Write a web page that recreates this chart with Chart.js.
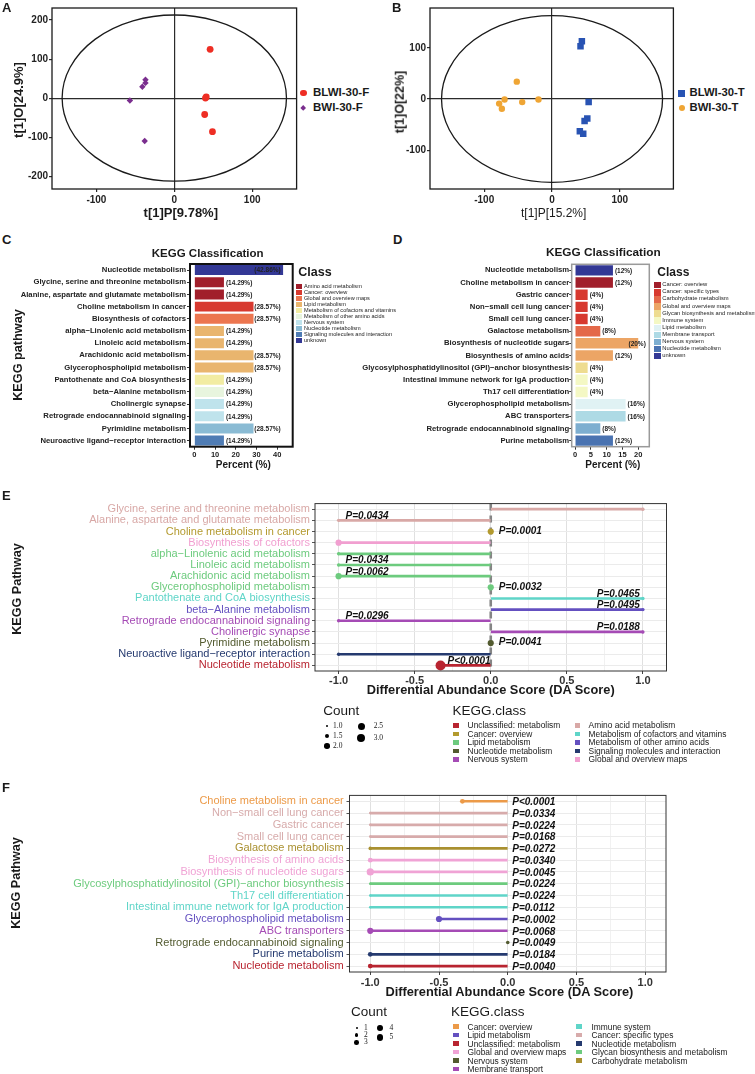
<!DOCTYPE html>
<html><head><meta charset="utf-8">
<script src="https://cdn.jsdelivr.net/npm/chart.js@4.4.1/dist/chart.umd.min.js"></script>
<style>
html,body{margin:0;padding:0;background:#fff;}
body{width:755px;height:1074px;position:relative;overflow:hidden;font-family:"Liberation Sans",Arial,Helvetica,sans-serif;color:#1a1a1a;}
.t{position:absolute;white-space:nowrap;line-height:1;}
canvas{position:absolute;}
.sw{position:absolute;}
</style></head><body>
<script>
// ---------------- DATA ----------------
// Panel A (OPLS-DA scores, F)
const aSeries = ['BLWI-30-F', 'BWI-30-F'];
const aBlwiX = [46, 41, 40, 39, 49];
const aBlwiY = [125, 3, 0, -42, -86];
const aBwiX = [-37, -37, -41, -57, -38];
const aBwiY = [47, 39, 29, -6, -110];
const aAxisTitles = ['t[1]P[9.78%]', 't[1]O[24.9%]'];
const aEllipse = [144, 213];

// Panel B (OPLS-DA scores, T)
const bSeries = ['BLWI-30-T', 'BWI-30-T'];
const bBlwiX = [44, 42, 54, 52, 48, 41, 46];
const bBlwiY = [113, 103, -6, -38, -43, -63, -68];
const bBwiX = [-52, -70, -44, -20, -78, -74];
const bBwiY = [34, -1, -6, -1, -9, -19];
const bAxisTitles = ['t[1]P[15.2%]', 't[1]O[22%]'];
const bEllipse = [163, 163];

// Panel C (KEGG classification)
const cPathways = ['Nucleotide metabolism','Glycine, serine and threonine metabolism','Alanine, aspartate and glutamate metabolism','Choline metabolism in cancer','Biosynthesis of cofactors','alpha\u2212Linolenic acid metabolism','Linoleic acid metabolism','Arachidonic acid metabolism','Glycerophospholipid metabolism','Pantothenate and CoA biosynthesis','beta\u2212Alanine metabolism','Cholinergic synapse','Retrograde endocannabinoid signaling','Pyrimidine metabolism','Neuroactive ligand\u2212receptor interaction'];
const cPercent = [42.86,14.29,14.29,28.57,28.57,14.29,14.29,28.57,28.57,14.29,14.29,14.29,14.29,28.57,14.29];
const cClass = ['unknown','Amino acid metabolism','Amino acid metabolism','Cancer: overview','Global and overview maps','Lipid metabolism','Lipid metabolism','Lipid metabolism','Lipid metabolism','Metabolism of cofactors and vitamins','Metabolism of other amino acids','Nervous system','Nervous system','Nucleotide metabolism','Signaling molecules and interaction'];
const cClassNames = ['Amino acid metabolism','Cancer: overview','Global and overview maps','Lipid metabolism','Metabolism of cofactors and vitamins','Metabolism of other amino acids','Nervous system','Nucleotide metabolism','Signaling molecules and interaction','unknown'];
const cClassColors = ['#A11F2B','#D7392F','#EC7650','#E9B56E','#F2ECA2','#E8F5DE','#BFE3EC','#8ABBD4','#4F7CB4','#333895'];
const cTicks = [0, 10, 20, 30, 40];

// Panel D (KEGG classification)
const dPathways = ['Nucleotide metabolism','Choline metabolism in cancer','Gastric cancer','Non\u2212small cell lung cancer','Small cell lung cancer','Galactose metabolism','Biosynthesis of nucleotide sugars','Biosynthesis of amino acids','Glycosylphosphatidylinositol (GPI)\u2212anchor biosynthesis','Intestinal immune network for IgA production','Th17 cell differentiation','Glycerophospholipid metabolism','ABC transporters','Retrograde endocannabinoid signaling','Purine metabolism'];
const dPercent = [12,12,4,4,4,8,20,12,4,4,4,16,16,8,12];
const dClass = ['unknown','Cancer: overview','Cancer: specific types','Cancer: specific types','Cancer: specific types','Carbohydrate metabolism','Global and overview maps','Global and overview maps','Glycan biosynthesis and metabolism','Immune system','Immune system','Lipid metabolism','Membrane transport','Nervous system','Nucleotide metabolism'];
const dClassNames = ['Cancer: overview','Cancer: specific types','Carbohydrate metabolism','Global and overview maps','Glycan biosynthesis and metabolism','Immune system','Lipid metabolism','Membrane transport','Nervous system','Nucleotide metabolism','unknown'];
const dClassColors = ['#A11F2B','#D7392F','#E4694A','#ECA565','#EEDC90','#F4F8C4','#E0F2F4','#AEDAE5','#7DAED0','#4A73B1','#333895'];

// Panel E (DA score)
const ePathways = ['Glycine, serine and threonine metabolism','Alanine, aspartate and glutamate metabolism','Choline metabolism in cancer','Biosynthesis of cofactors','alpha\u2212Linolenic acid metabolism','Linoleic acid metabolism','Arachidonic acid metabolism','Glycerophospholipid metabolism','Pantothenate and CoA biosynthesis','beta\u2212Alanine metabolism','Retrograde endocannabinoid signaling','Cholinergic synapse','Pyrimidine metabolism','Neuroactive ligand\u2212receptor interaction','Nucleotide metabolism'];
const eDA = [1,-1,0,-1,-1,-1,-1,0,1,1,-1,1,0,-1,-0.33];
const eCount = [1,1,2,2,1,1,2,2,1,1,1,1,2,1,3];
const eClass = ['Amino acid metabolism','Amino acid metabolism','Cancer: overview','Global and overview maps','Lipid metabolism','Lipid metabolism','Lipid metabolism','Lipid metabolism','Metabolism of cofactors and vitamins','Metabolism of other amino acids','Nervous system','Nervous system','Nucleotide metabolism','Signaling molecules and interaction','Unclassified: metabolism'];
const eP = ['','P=0.0434','P=0.0001','','','P=0.0434','P=0.0062','P=0.0032','P=0.0465','P=0.0495','P=0.0296','P=0.0188','P=0.0041','','P<0.0001'];
const eClassNames = ['Unclassified: metabolism','Cancer: overview','Lipid metabolism','Nucleotide metabolism','Nervous system','Amino acid metabolism','Metabolism of cofactors and vitamins','Metabolism of other amino acids','Signaling molecules and interaction','Global and overview maps'];
const eClassColors = ['#B82430','#B39A2E','#6DCB7E','#535B30','#A54BB5','#D8A8A6','#5FD5C8','#6450C0','#253A6F','#F19FD0'];
const eCountLevels = ['1.0','1.5','2.0','2.5','3.0'];

// Panel F (DA score)
const fPathways = ['Choline metabolism in cancer','Non\u2212small cell lung cancer','Gastric cancer','Small cell lung cancer','Galactose metabolism','Biosynthesis of amino acids','Biosynthesis of nucleotide sugars','Glycosylphosphatidylinositol (GPI)\u2212anchor biosynthesis','Th17 cell differentiation','Intestinal immune network for IgA production','Glycerophospholipid metabolism','ABC transporters','Retrograde endocannabinoid signaling','Purine metabolism','Nucleotide metabolism'];
const fDA = [-0.33,-1,-1,-1,-1,-1,-1,-1,-1,-1,-0.5,-1,0,-1,-1];
const fCount = [3,1,1,1,2,3,5,1,1,1,4,4,2,3,3];
const fClass = ['Cancer: overview','Cancer: specific types','Cancer: specific types','Cancer: specific types','Carbohydrate metabolism','Global and overview maps','Global and overview maps','Glycan biosynthesis and metabolism','Immune system','Immune system','Lipid metabolism','Membrane transport','Nervous system','Nucleotide metabolism','Unclassified: metabolism'];
const fP = ['P<0.0001','P=0.0334','P=0.0224','P=0.0168','P=0.0272','P=0.0340','P=0.0045','P=0.0224','P=0.0224','P=0.0112','P=0.0002','P=0.0068','P=0.0049','P=0.0184','P=0.0040'];
const fClassNames = ['Cancer: overview','Lipid metabolism','Unclassified: metabolism','Global and overview maps','Nervous system','Membrane transport','Immune system','Cancer: specific types','Nucleotide metabolism','Glycan biosynthesis and metabolism','Carbohydrate metabolism'];
const fClassColors = ['#EC9A48','#6450C0','#B82430','#F0A3D5','#535B30','#A54BB5','#5FD5C8','#D7ABAB','#253A6F','#6DCB7E','#A99030'];
const fCountLevels = ['1','2','3','4','5'];

// ---------------- HELPERS ----------------
const SANS = '"Liberation Sans", Arial, Helvetica, sans-serif';
const SERIF = '"Liberation Serif", "Times New Roman", serif';
Chart.defaults.font.family = SANS;
Chart.defaults.color = '#222';

function txt(s, x, y, o) {
  o = o || {};
  const d = document.createElement('div');
  d.className = 't'; d.textContent = s;
  d.style.left = x + 'px'; d.style.top = y + 'px';
  d.style.fontSize = (o.size || 12) + 'px';
  d.style.fontWeight = o.bold ? 'bold' : 'normal';
  if (o.italic) d.style.fontStyle = 'italic';
  if (o.family) d.style.fontFamily = o.family;
  d.style.color = o.color || '#1a1a1a';
  const ax = o.align === 'center' ? '-50%' : (o.align === 'right' ? '-100%' : '0');
  d.style.transform = o.rotate ? 'translate(-50%,-50%) rotate(' + o.rotate + 'deg)' : 'translate(' + ax + ',-50%)';
  document.body.appendChild(d);
  return d;
}
function swatch(x, y, w, h, color, shape) {
  const d = document.createElement('div');
  d.className = 'sw';
  d.style.left = (x - w / 2) + 'px'; d.style.top = (y - h / 2) + 'px';
  d.style.width = w + 'px'; d.style.height = h + 'px';
  d.style.background = color;
  if (shape === 'circle') d.style.borderRadius = '50%';
  if (shape === 'diamond') d.style.transform = 'rotate(45deg)';
  document.body.appendChild(d);
}
function mkCanvas(b) {
  const c = document.createElement('canvas');
  c.width = b.w; c.height = b.h;
  c.style.left = b.l + 'px'; c.style.top = b.t + 'px';
  c.style.width = b.w + 'px'; c.style.height = b.h + 'px';
  document.body.appendChild(c);
  return c;
}
function fit(b, a) {
  return { padding: { top: a.t - b.t, right: b.l + b.w - a.r, left: 0, bottom: 0 }, yw: a.l - b.l, xh: b.t + b.h - a.b };
}
function mapOf(names, colors) { const m = {}; names.forEach((n, i) => m[n] = colors[i]); return m; }

const framePlugin = {
  id: 'frame',
  afterDraw(chart, args, opts) {
    const { left, top, right, bottom } = chart.chartArea;
    const ctx = chart.ctx;
    ctx.save();
    ctx.strokeStyle = opts.color || '#000';
    ctx.lineWidth = opts.width || 1;
    ctx.strokeRect(left, top, right - left, bottom - top);
    ctx.restore();
  }
};
const ellipsePlugin = {
  id: 'ellipse',
  beforeDatasetsDraw(chart, args, opts) {
    const xs = chart.scales.x, ys = chart.scales.y, ctx = chart.ctx;
    const cx = xs.getPixelForValue(0), cy = ys.getPixelForValue(0);
    const rx = xs.getPixelForValue(opts.rx) - cx, ry = cy - ys.getPixelForValue(opts.ry);
    ctx.save();
    ctx.strokeStyle = '#1a1a1a'; ctx.lineWidth = 1.3;
    ctx.beginPath(); ctx.ellipse(cx, cy, rx, ry, 0, 0, Math.PI * 2); ctx.stroke();
    ctx.restore();
  }
};
function makeBarLabels(vals, rightPad) {
  return {
    id: 'barLabels',
    afterDatasetsDraw(chart) {
      const meta = chart.getDatasetMeta(0), ctx = chart.ctx;
      ctx.save();
      ctx.font = 'bold 6.5px ' + SANS;
      ctx.fillStyle = '#222'; ctx.textAlign = 'left'; ctx.textBaseline = 'middle';
      meta.data.forEach((bar, i) => {
        const t = '(' + vals[i] + '%)';
        const w = ctx.measureText(t).width;
        let x = bar.x + 2;
        const lim = chart.chartArea.right - rightPad - w;
        if (x > lim) x = lim;
        ctx.fillText(t, x, bar.y + 0.5);
      });
      ctx.restore();
    }
  };
}
function makePLabels(labels, values, mode) {
  return {
    id: 'pLabels',
    afterDatasetsDraw(chart) {
      const xs = chart.scales.x, ys = chart.scales.y, ctx = chart.ctx;
      ctx.save();
      ctx.font = 'italic bold 10px ' + SANS;
      ctx.fillStyle = '#111';
      labels.forEach((t, i) => {
        if (!t) return;
        const y = ys.getPixelForValue(i);
        if (mode === 'zero') {
          ctx.textAlign = 'left'; ctx.textBaseline = 'middle';
          ctx.fillText(t, xs.getPixelForValue(0) + 4.5, y + 1);
          return;
        }
        const v = values[i], x = xs.getPixelForValue(v);
        if (v > 0) { ctx.textAlign = 'right'; ctx.textBaseline = 'alphabetic'; ctx.fillText(t, x - 3, y - 1.5); }
        else if (v === 0) { ctx.textAlign = 'left'; ctx.textBaseline = 'middle'; ctx.fillText(t, x + 8, y - 0.5); }
        else { ctx.textAlign = 'left'; ctx.textBaseline = 'alphabetic'; ctx.fillText(t, x + 7, y - 1.5); }
      });
      ctx.restore();
    }
  };
}
const zeroDashPlugin = {
  id: 'zeroDash',
  beforeDatasetsDraw(chart, args, opts) {
    if (!opts.show) return;
    const xs = chart.scales.x, ctx = chart.ctx, a = chart.chartArea;
    const x = xs.getPixelForValue(0);
    ctx.save();
    ctx.strokeStyle = '#858585'; ctx.lineWidth = 2.6; ctx.setLineDash([7, 5]);
    ctx.beginPath(); ctx.moveTo(x, a.top); ctx.lineTo(x, a.bottom); ctx.stroke();
    ctx.restore();
  }
};

// ---------------- PANELS ----------------
function scatterPanel(b, a, sets, ell, xr, yr) {
  const f = fit(b, a);
  const cv = mkCanvas(b);
  const zeroGrid = {
    drawOnChartArea: true, drawTicks: true, tickLength: 3, lineWidth: 1.2, tickColor: '#2b2b2b',
    color: c => (c.tick && c.tick.value === 0) ? '#2b2b2b' : 'rgba(0,0,0,0)'
  };
  return new Chart(cv, {
    type: 'scatter',
    data: { datasets: sets },
    options: {
      responsive: false, animation: false, devicePixelRatio: 1,
      layout: { padding: f.padding },
      plugins: { legend: { display: false }, tooltip: { enabled: false }, frame: { color: '#1a1a1a', width: 1.3 }, ellipse: { rx: ell[0], ry: ell[1] } },
      scales: {
        x: { type: 'linear', min: xr[0], max: xr[1], afterFit: s => { s.height = f.xh; },
             ticks: { stepSize: 100, includeBounds: false, font: { size: 10, weight: 'bold' }, color: '#222', padding: 2, maxRotation: 0 },
             grid: zeroGrid, border: { display: false } },
        y: { type: 'linear', min: yr[0], max: yr[1], afterFit: s => { s.width = f.yw; },
             ticks: { stepSize: 100, includeBounds: false, font: { size: 10, weight: 'bold' }, color: '#222', padding: 1 },
             grid: zeroGrid, border: { display: false } }
      }
    },
    plugins: [framePlugin, ellipsePlugin]
  });
}
function pts(xs, ys) { return xs.map((x, i) => ({ x: x, y: ys[i] })); }
function ptSet(data, color, style, r) {
  return { data: data, pointStyle: style, pointRadius: r, pointHoverRadius: r, pointBackgroundColor: color, pointBorderColor: color, pointBorderWidth: 0, showLine: false };
}

function classBars(b, a, cats, vals, cls, names, colors, xr, step, o) {
  const f = fit(b, a);
  const cv = mkCanvas(b);
  const cmap = mapOf(names, colors);
  return new Chart(cv, {
    type: 'bar',
    data: { labels: cats, datasets: [{ data: vals, backgroundColor: cls.map(c => cmap[c]), borderWidth: 0, barPercentage: o.barPct, categoryPercentage: 1 }] },
    options: {
      indexAxis: 'y', responsive: false, animation: false, devicePixelRatio: 1,
      layout: { padding: f.padding },
      plugins: { legend: { display: false }, tooltip: { enabled: false }, frame: { color: o.frameColor, width: o.frameWidth } },
      scales: {
        x: { type: 'linear', min: xr[0], max: xr[1], afterFit: s => { s.height = f.xh; },
             ticks: { stepSize: step, includeBounds: false, font: { size: 7.5, weight: 'bold' }, color: '#222', padding: 1, maxRotation: 0 },
             grid: { drawOnChartArea: false, color: '#333', tickLength: 3 }, border: { display: false } },
        y: { type: 'category', afterFit: s => { s.width = f.yw; },
             ticks: { autoSkip: false, font: { size: 7.7, weight: 'bold' }, color: '#222', padding: o.yPad },
             grid: { drawOnChartArea: false, offset: false, color: '#333', tickLength: o.tickLen }, border: { display: false } }
      }
    },
    plugins: [framePlugin, makeBarLabels(vals, o.labelRightPad)]
  });
}

function isMajor(v) { return Math.abs(v * 2 - Math.round(v * 2)) < 1e-6; }
function lollipop(b, a, cats, da, counts, cls, names, colors, pv, radii, mode, showZero) {
  const f = fit(b, a);
  const cv = mkCanvas(b);
  const cmap = mapOf(names, colors);
  const cols = cls.map(c => cmap[c]);
  const rs = counts.map(c => radii[c]);
  return new Chart(cv, {
    type: 'bar',
    data: { labels: cats, datasets: [
      { type: 'line', data: da, showLine: false, pointRadius: rs, pointHoverRadius: rs, pointBackgroundColor: cols, pointBorderColor: cols, pointBorderWidth: 0 },
      { type: 'bar', data: da.map(v => [0, v]), backgroundColor: cols, barThickness: 2, borderWidth: 0, borderSkipped: false }
    ] },
    options: {
      indexAxis: 'y', responsive: false, animation: false, devicePixelRatio: 1,
      layout: { padding: f.padding },
      plugins: { legend: { display: false }, tooltip: { enabled: false }, frame: { color: '#333', width: 1 }, zeroDash: { show: showZero } },
      scales: {
        x: { type: 'linear', min: a.xmin, max: a.xmax, afterFit: s => { s.height = f.xh; },
             ticks: { stepSize: 0.25, includeBounds: false, autoSkip: false, font: { size: 11, weight: 'bold' }, color: '#333', padding: a.xPad, maxRotation: 0,
                      callback: v => isMajor(v) ? v.toFixed(1) : '' },
             grid: { color: c => (c.tick && isMajor(c.tick.value)) ? '#e0e0e0' : '#f1f1f1', tickColor: c => (c.tick && isMajor(c.tick.value)) ? '#444' : 'rgba(0,0,0,0)', tickLength: 3 },
             border: { display: false } },
        y: { type: 'category', afterFit: s => { s.width = f.yw; },
             ticks: { autoSkip: false, font: { size: 11 }, color: c => cols[c.index], padding: a.yPad },
             grid: { offset: false, color: '#ebebeb', tickColor: '#555', tickLength: 3 }, border: { display: false } }
      }
    },
    plugins: [framePlugin, zeroDashPlugin, makePLabels(pv, da, mode)]
  });
}

// Panel A
scatterPanel({ l: 0, t: 0, w: 300, h: 207 }, { l: 52, t: 8, r: 297, b: 189 },
  [ptSet(pts(aBlwiX, aBlwiY), '#EE2E24', 'circle', 3.4), ptSet(pts(aBwiX, aBwiY), '#7A2E8E', 'rectRot', 3.2)],
  aEllipse, [-157, 157], [-233, 231]);
// Panel B
scatterPanel({ l: 378, t: 0, w: 300, h: 207 }, { l: 430, t: 8, r: 676, b: 189 },
  [ptSet(pts(bBlwiX, bBlwiY), '#2853B3', 'rect', 4.6), ptSet(pts(bBwiX, bBwiY), '#EFA534', 'circle', 3.2)],
  bEllipse, [-180, 179], [-176, 178]);
// Panel C
classBars({ l: 0, t: 258, w: 300, h: 203 }, { l: 190, t: 264, r: 292.7, b: 446.7 },
  cPathways, cPercent, cClass, cClassNames, cClassColors, [-2.1, 47.5], 10,
  { barPct: 0.82, frameColor: '#111', frameWidth: 2, yPad: 1, tickLen: 3, labelRightPad: 12 });
// Panel D
classBars({ l: 340, t: 258, w: 315, h: 203 }, { l: 571.7, t: 264.3, r: 649.3, b: 446.7 },
  dPathways, dPercent, dClass, dClassNames, dClassColors, [-1.05, 23.5], 5,
  { barPct: 0.86, frameColor: '#9a9a9a', frameWidth: 1.5, yPad: 0, tickLen: 2.5, labelRightPad: 3.5 });
// Panel E
lollipop({ l: 0, t: 495, w: 675, h: 191 }, { l: 315, t: 501, r: 666.5, b: 671, xmin: -1.155, xmax: 1.155, xPad: 0, yPad: 2 },
  ePathways, eDA, eCount, eClass, eClassNames, eClassColors, eP, { 1: 1.7, 2: 3.1, 3: 5 }, 'side', true);
// Panel F
lollipop({ l: 0, t: 786, w: 675, h: 202 }, { l: 349.5, t: 791, r: 666, b: 972, xmin: -1.151, xmax: 1.151, xPad: 1, yPad: 2.8 },
  fPathways, fDA, fCount, fClass, fClassNames, fClassColors, fP, { 1: 1.3, 2: 1.8, 3: 2.4, 4: 3.1, 5: 3.6 }, 'zero', false);

// ---------------- TEXT & LEGENDS ----------------
// Panel letters
txt('A', 2, 7, { size: 13, bold: true });
txt('B', 392, 7, { size: 13, bold: true });
txt('C', 2, 239, { size: 13, bold: true });
txt('D', 393, 239, { size: 13, bold: true });
txt('E', 2, 495, { size: 13, bold: true });
txt('F', 2, 787, { size: 13, bold: true });

// A
txt(aAxisTitles[0], 180.8, 212, { size: 13, bold: true, align: 'center' });
txt(aAxisTitles[1], 17.5, 100, { size: 13, bold: true, rotate: -90 });
swatch(303.3, 93, 6.8, 6.8, '#EE2E24', 'circle');
txt(aSeries[0], 313, 93, { size: 11.5, bold: true });
swatch(303.3, 107.7, 4.4, 4.4, '#7A2E8E', 'diamond');
txt(aSeries[1], 313, 107.7, { size: 11.5, bold: true });

// B
txt(bAxisTitles[0], 553.7, 213, { size: 12, align: 'center' });
txt(bAxisTitles[1], 400, 101.5, { size: 12.5, bold: true, rotate: -90 });
swatch(681.7, 93.3, 6.5, 6.5, '#2853B3');
txt(bSeries[0], 689.5, 93.3, { size: 11.3, bold: true });
swatch(681.7, 107.7, 6.4, 6.4, '#EFA534', 'circle');
txt(bSeries[1], 689.5, 107.7, { size: 11.3, bold: true });

// C
txt('KEGG Classification', 207.7, 254, { size: 11.5, bold: true, align: 'center' });
txt('Class', 298.3, 271.7, { size: 12.5, bold: true });
cClassNames.forEach((n, i) => { const y = 286.7 + 6 * i; swatch(299.2, y, 5.8, 5.4, cClassColors[i]); txt(n, 304, y, { size: 5.6, color: '#222' }); });
txt('KEGG pathway', 17.5, 355, { size: 12.7, bold: true, rotate: -90 });
txt('Percent (%)', 243.3, 465, { size: 10, bold: true, align: 'center' });

// D
txt('KEGG Classification', 603.3, 253, { size: 11.8, bold: true, align: 'center' });
txt('Class', 657.3, 271.7, { size: 12, bold: true });
dClassNames.forEach((n, i) => { const y = 285.3 + 7.07 * i; swatch(657.4, y, 6.6, 6.4, dClassColors[i]); txt(n, 662.3, y, { size: 5.8, color: '#222' }); });
txt('Percent (%)', 612.8, 465, { size: 10, bold: true, align: 'center' });

// E
txt('KEGG Pathway', 17, 589, { size: 12.6, bold: true, rotate: -90 });
txt('Differential Abundance Score (DA Score)', 490.7, 690, { size: 12.8, bold: true, align: 'center' });
txt('Count', 323.3, 710.7, { size: 13.5 });
const eCountPos = [[327.2, 726, 1.3, 333], [327.2, 736, 2.0, 333], [327.2, 746, 2.8, 333], [361, 726, 3.5, 373.7], [361, 738, 4.2, 373.7]];
eCountLevels.forEach((lv, i) => { const p = eCountPos[i]; swatch(p[0], p[1], p[2] * 2, p[2] * 2, '#000', 'circle'); txt(lv, p[3], p[1], { size: 7.5, family: SERIF }); });
txt('KEGG.class', 452.6, 710.7, { size: 13.5 });
eClassNames.forEach((n, i) => {
  const col = i < 5 ? 0 : 1, r = i % 5, y = 725.3 + 8.5 * r;
  swatch(col ? 577.4 : 456, y, 5.5, 4.5, eClassColors[i]);
  txt(n, col ? 588.6 : 467.6, y, { size: 8.4 });
});

// F
txt('KEGG Pathway', 16, 882.5, { size: 12.6, bold: true, rotate: -90 });
txt('Differential Abundance Score (DA Score)', 509.4, 991.5, { size: 12.8, bold: true, align: 'center' });
txt('Count', 351, 1011.7, { size: 13.5 });
const fCountPos = [[356.7, 1027.7, 1.2, 364], [356.7, 1035, 1.8, 364], [356.7, 1042.3, 2.3, 364], [380, 1027.7, 2.9, 389.6], [380, 1037.3, 3.4, 389.6]];
fCountLevels.forEach((lv, i) => { const p = fCountPos[i]; swatch(p[0], p[1], p[2] * 2, p[2] * 2, '#000', 'circle'); txt(lv, p[3], p[1], { size: 7.5, family: SERIF }); });
txt('KEGG.class', 451, 1011.7, { size: 13.5 });
fClassNames.forEach((n, i) => {
  const col = i < 6 ? 0 : 1, r = col ? i - 6 : i, y = 1026.7 + 8.47 * r;
  swatch(col ? 579 : 456, y, 5.5, 4.5, fClassColors[i]);
  txt(n, col ? 591.5 : 467.6, y, { size: 8.4 });
});
</script>
</body></html>
